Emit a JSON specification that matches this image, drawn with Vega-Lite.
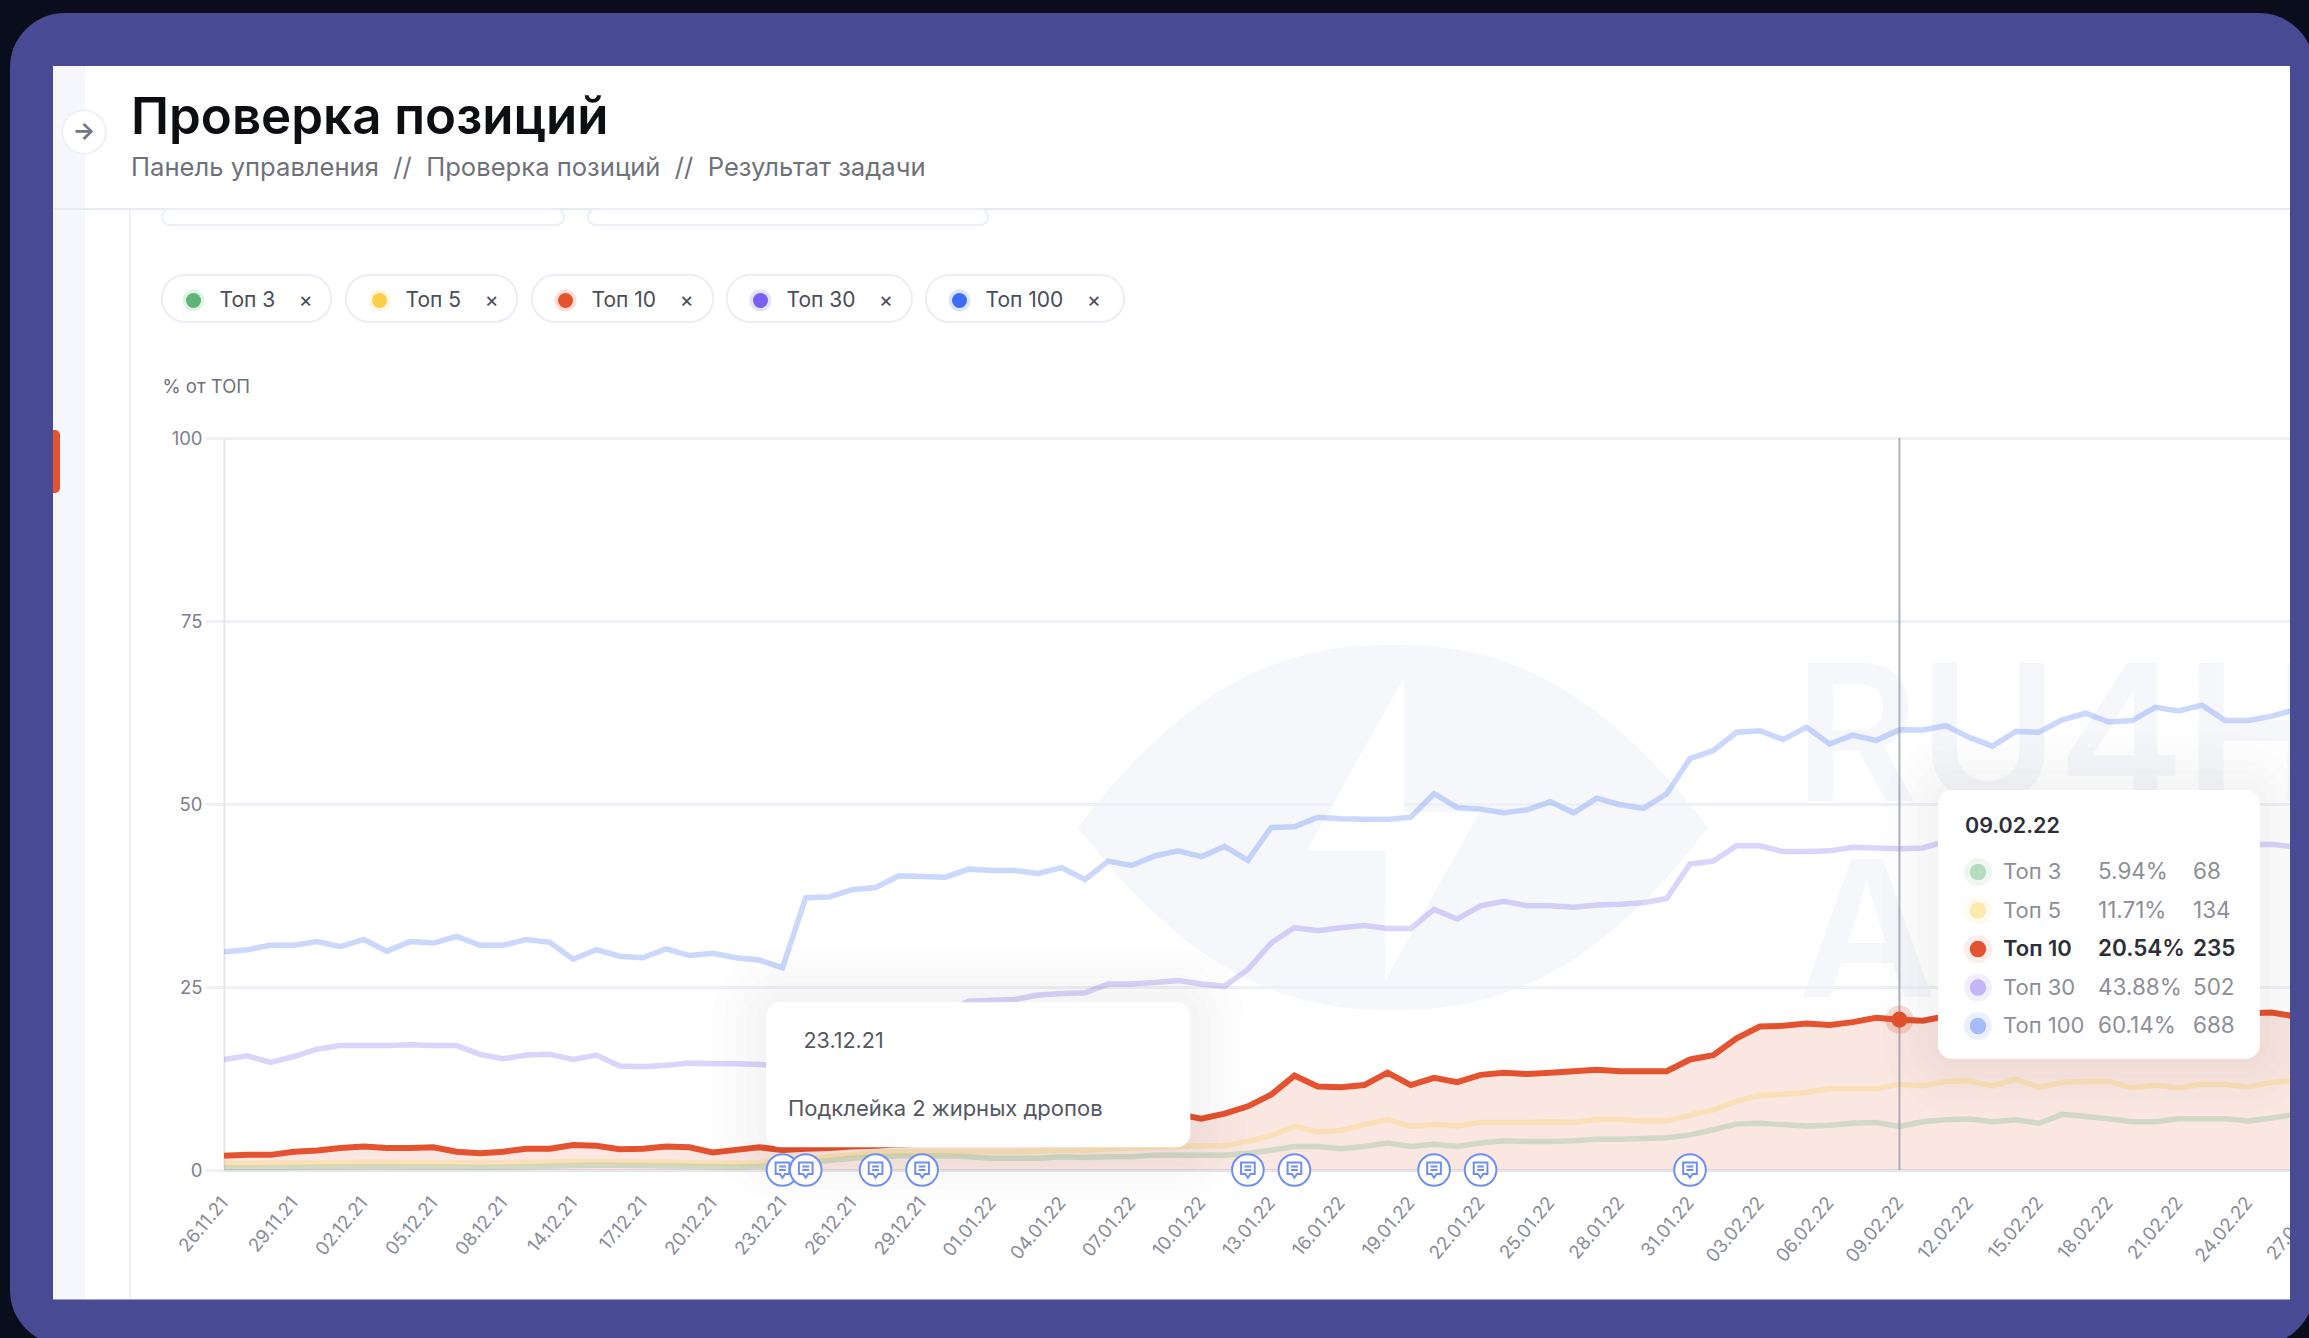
{"$schema":"https://vega.github.io/schema/vega-lite/v6.json","width":2066,"height":732,"autosize":{"type":"none"},"padding":{"left":224,"top":438,"right":19,"bottom":168},"background":"#ffffff",
"title":{"text":"Проверка позиций","subtitle":"Панель управления\u00a0\u00a0//\u00a0\u00a0Проверка позиций\u00a0\u00a0//\u00a0\u00a0Результат задачи","anchor":"start","frame":"group","dx":-93,"offset":-237,"font":"Inter","fontSize":51,"fontWeight":600,"color":"#0d0e12","subtitleFont":"Inter","subtitleFontSize":25.6,"subtitleColor":"#6f7179","subtitlePadding":11},
"config":{"view":{"stroke":null},"font":"Inter"},
"resolve":{"axis":{"x":"independent","y":"independent"}},
"datasets":{"rows":[
{"date":"26.11.21","Топ 3":0.3,"Топ 5":0.9,"Топ 10":1.93,"Топ 30":15.1,"Топ 100":29.8},
{"date":"27.11.21","Топ 3":0.3,"Топ 5":0.9,"Топ 10":2.07,"Топ 30":15.6,"Топ 100":30.1},
{"date":"28.11.21","Топ 3":0.3,"Топ 5":0.95,"Топ 10":2.07,"Топ 30":14.7,"Топ 100":30.7},
{"date":"29.11.21","Топ 3":0.35,"Топ 5":0.95,"Топ 10":2.5,"Топ 30":15.5,"Топ 100":30.7},
{"date":"30.11.21","Топ 3":0.4,"Топ 5":1.0,"Топ 10":2.67,"Топ 30":16.5,"Топ 100":31.2},
{"date":"01.12.21","Топ 3":0.4,"Топ 5":1.0,"Топ 10":3.0,"Топ 30":17.0,"Топ 100":30.5},
{"date":"02.12.21","Топ 3":0.45,"Топ 5":1.05,"Топ 10":3.2,"Топ 30":17.0,"Топ 100":31.5},
{"date":"03.12.21","Топ 3":0.45,"Топ 5":1.05,"Топ 10":3.0,"Топ 30":17.0,"Топ 100":29.9},
{"date":"04.12.21","Топ 3":0.4,"Топ 5":1.0,"Топ 10":3.0,"Топ 30":17.1,"Топ 100":31.2},
{"date":"05.12.21","Топ 3":0.4,"Топ 5":1.0,"Топ 10":3.1,"Топ 30":17.0,"Топ 100":31.0},
{"date":"06.12.21","Топ 3":0.4,"Топ 5":1.0,"Топ 10":2.5,"Топ 30":17.0,"Топ 100":31.9},
{"date":"07.12.21","Топ 3":0.35,"Топ 5":0.95,"Топ 10":2.3,"Топ 30":15.8,"Топ 100":30.7},
{"date":"08.12.21","Топ 3":0.4,"Топ 5":1.0,"Топ 10":2.5,"Топ 30":15.2,"Топ 100":30.7},
{"date":"10.12.21","Топ 3":0.45,"Топ 5":1.05,"Топ 10":2.9,"Топ 30":15.7,"Топ 100":31.5},
{"date":"12.12.21","Топ 3":0.5,"Топ 5":1.1,"Топ 10":2.9,"Топ 30":15.8,"Топ 100":31.1},
{"date":"14.12.21","Топ 3":0.6,"Топ 5":1.2,"Топ 10":3.4,"Топ 30":15.1,"Топ 100":28.8},
{"date":"15.12.21","Топ 3":0.65,"Топ 5":1.2,"Топ 10":3.3,"Топ 30":15.7,"Топ 100":30.1},
{"date":"16.12.21","Топ 3":0.65,"Топ 5":1.2,"Топ 10":2.85,"Топ 30":14.2,"Топ 100":29.2},
{"date":"17.12.21","Топ 3":0.6,"Топ 5":1.1,"Топ 10":2.9,"Топ 30":14.1,"Топ 100":29.0},
{"date":"18.12.21","Топ 3":0.55,"Топ 5":1.1,"Топ 10":3.2,"Топ 30":14.3,"Топ 100":30.2},
{"date":"19.12.21","Топ 3":0.5,"Топ 5":1.0,"Топ 10":3.1,"Топ 30":14.6,"Топ 100":29.3},
{"date":"20.12.21","Топ 3":0.45,"Топ 5":0.95,"Топ 10":2.4,"Топ 30":14.5,"Топ 100":29.6},
{"date":"21.12.21","Топ 3":0.4,"Топ 5":0.95,"Топ 10":2.75,"Топ 30":14.5,"Топ 100":29.0},
{"date":"22.12.21","Топ 3":0.5,"Топ 5":1.0,"Топ 10":3.1,"Топ 30":14.4,"Топ 100":28.7},
{"date":"23.12.21","Топ 3":0.7,"Топ 5":1.2,"Топ 10":2.75,"Топ 30":14.3,"Топ 100":27.6},
{"date":"24.12.21","Топ 3":1.0,"Топ 5":1.5,"Топ 10":2.9,"Топ 30":14.5,"Топ 100":37.2},
{"date":"25.12.21","Топ 3":1.3,"Топ 5":1.8,"Топ 10":3.0,"Топ 30":15,"Топ 100":37.3},
{"date":"26.12.21","Топ 3":1.6,"Топ 5":2.1,"Топ 10":3.2,"Топ 30":16,"Топ 100":38.3},
{"date":"27.12.21","Топ 3":1.8,"Топ 5":2.4,"Топ 10":3.3,"Топ 30":17,"Топ 100":38.6},
{"date":"28.12.21","Топ 3":1.9,"Топ 5":2.5,"Топ 10":3.5,"Топ 30":18.5,"Топ 100":40.2},
{"date":"29.12.21","Топ 3":1.9,"Топ 5":2.5,"Топ 10":3.6,"Топ 30":20,"Топ 100":40.1},
{"date":"30.12.21","Топ 3":1.95,"Топ 5":2.5,"Топ 10":3.8,"Топ 30":21.5,"Топ 100":40.0},
{"date":"31.12.21","Топ 3":1.8,"Топ 5":2.5,"Топ 10":4.0,"Топ 30":23.06,"Топ 100":41.1},
{"date":"01.01.22","Топ 3":1.6,"Топ 5":2.5,"Топ 10":4.3,"Топ 30":23.2,"Топ 100":40.9},
{"date":"02.01.22","Топ 3":1.6,"Топ 5":2.5,"Топ 10":4.6,"Топ 30":23.3,"Топ 100":40.9},
{"date":"03.01.22","Топ 3":1.6,"Топ 5":2.6,"Топ 10":4.9,"Топ 30":23.9,"Топ 100":40.5},
{"date":"04.01.22","Топ 3":1.8,"Топ 5":2.7,"Топ 10":5.2,"Топ 30":24.1,"Топ 100":41.3},
{"date":"05.01.22","Топ 3":1.7,"Топ 5":2.7,"Топ 10":5.5,"Топ 30":24.2,"Топ 100":39.7},
{"date":"06.01.22","Топ 3":1.8,"Топ 5":2.9,"Топ 10":5.9,"Топ 30":25.4,"Топ 100":42.2},
{"date":"07.01.22","Топ 3":1.8,"Топ 5":3.0,"Топ 10":6.3,"Топ 30":25.4,"Топ 100":41.6},
{"date":"08.01.22","Топ 3":2.0,"Топ 5":3.1,"Топ 10":6.8,"Топ 30":25.6,"Топ 100":42.9},
{"date":"09.01.22","Топ 3":2.0,"Топ 5":3.2,"Топ 10":7.6,"Топ 30":25.9,"Топ 100":43.6},
{"date":"10.01.22","Топ 3":2.0,"Топ 5":3.3,"Топ 10":7.0,"Топ 30":25.4,"Топ 100":42.8},
{"date":"11.01.22","Топ 3":2.0,"Топ 5":3.3,"Топ 10":7.7,"Топ 30":25.1,"Топ 100":44.2},
{"date":"12.01.22","Топ 3":2.3,"Топ 5":3.9,"Топ 10":8.7,"Топ 30":27.4,"Топ 100":42.3},
{"date":"13.01.22","Топ 3":2.7,"Топ 5":4.7,"Топ 10":10.3,"Топ 30":31.0,"Топ 100":46.8},
{"date":"14.01.22","Топ 3":3.2,"Топ 5":5.96,"Топ 10":12.9,"Топ 30":33.1,"Топ 100":46.9},
{"date":"15.01.22","Топ 3":3.2,"Топ 5":5.2,"Топ 10":11.4,"Топ 30":32.7,"Топ 100":48.2},
{"date":"16.01.22","Топ 3":2.9,"Топ 5":5.4,"Топ 10":11.3,"Топ 30":33.1,"Топ 100":48.0},
{"date":"17.01.22","Топ 3":3.2,"Топ 5":6.2,"Топ 10":11.6,"Топ 30":33.4,"Топ 100":47.9},
{"date":"18.01.22","Топ 3":3.7,"Топ 5":6.9,"Топ 10":13.3,"Топ 30":33.0,"Топ 100":47.9},
{"date":"19.01.22","Топ 3":3.2,"Топ 5":5.96,"Топ 10":11.6,"Топ 30":33.0,"Топ 100":48.2},
{"date":"20.01.22","Топ 3":3.5,"Топ 5":6.2,"Топ 10":12.6,"Топ 30":35.6,"Топ 100":51.4},
{"date":"21.01.22","Топ 3":3.2,"Топ 5":6.0,"Топ 10":12.0,"Топ 30":34.3,"Топ 100":49.5},
{"date":"22.01.22","Топ 3":3.7,"Топ 5":6.5,"Топ 10":13.0,"Топ 30":36.1,"Топ 100":49.3},
{"date":"23.01.22","Топ 3":4.0,"Топ 5":6.5,"Топ 10":13.3,"Топ 30":36.7,"Топ 100":48.8},
{"date":"24.01.22","Топ 3":3.9,"Топ 5":6.5,"Топ 10":13.1,"Топ 30":36.1,"Топ 100":49.2},
{"date":"25.01.22","Топ 3":3.9,"Топ 5":6.6,"Топ 10":13.3,"Топ 30":36.1,"Топ 100":50.3},
{"date":"26.01.22","Топ 3":4.0,"Топ 5":6.5,"Топ 10":13.5,"Топ 30":35.9,"Топ 100":48.8},
{"date":"27.01.22","Топ 3":4.2,"Топ 5":6.9,"Топ 10":13.7,"Топ 30":36.2,"Топ 100":50.8},
{"date":"28.01.22","Топ 3":4.2,"Топ 5":6.9,"Топ 10":13.5,"Топ 30":36.3,"Топ 100":49.9},
{"date":"29.01.22","Топ 3":4.3,"Топ 5":6.7,"Топ 10":13.5,"Топ 30":36.5,"Топ 100":49.4},
{"date":"30.01.22","Топ 3":4.4,"Топ 5":6.7,"Топ 10":13.5,"Топ 30":37.1,"Топ 100":51.4},
{"date":"31.01.22","Топ 3":4.8,"Топ 5":7.5,"Топ 10":15.1,"Топ 30":41.8,"Топ 100":56.2},
{"date":"01.02.22","Топ 3":5.5,"Топ 5":8.2,"Топ 10":15.7,"Топ 30":42.2,"Топ 100":57.3},
{"date":"02.02.22","Топ 3":6.3,"Топ 5":9.4,"Топ 10":18.0,"Топ 30":44.3,"Топ 100":59.8},
{"date":"03.02.22","Топ 3":6.4,"Топ 5":10.2,"Топ 10":19.6,"Топ 30":44.3,"Топ 100":60.0},
{"date":"04.02.22","Топ 3":6.2,"Топ 5":10.3,"Топ 10":19.7,"Топ 30":43.5,"Топ 100":58.8},
{"date":"05.02.22","Топ 3":6.0,"Топ 5":10.6,"Топ 10":20.0,"Топ 30":43.5,"Топ 100":60.5},
{"date":"06.02.22","Топ 3":6.1,"Топ 5":11.1,"Топ 10":19.8,"Топ 30":43.6,"Топ 100":58.2},
{"date":"07.02.22","Топ 3":6.4,"Топ 5":11.1,"Топ 10":20.2,"Топ 30":44.1,"Топ 100":59.4},
{"date":"08.02.22","Топ 3":6.5,"Топ 5":11.1,"Топ 10":20.8,"Топ 30":44.0,"Топ 100":58.7},
{"date":"09.02.22","Топ 3":5.94,"Топ 5":11.71,"Топ 10":20.54,"Топ 30":43.88,"Топ 100":60.14},
{"date":"10.02.22","Топ 3":6.6,"Топ 5":11.5,"Топ 10":20.4,"Топ 30":44.0,"Топ 100":60.1},
{"date":"11.02.22","Топ 3":6.85,"Топ 5":12.1,"Топ 10":21.0,"Топ 30":44.9,"Топ 100":60.7},
{"date":"12.02.22","Топ 3":6.95,"Топ 5":12.2,"Топ 10":21.2,"Топ 30":45.0,"Топ 100":59.1},
{"date":"13.02.22","Топ 3":6.6,"Топ 5":11.5,"Топ 10":21.0,"Топ 30":44.8,"Топ 100":57.9},
{"date":"14.02.22","Топ 3":6.85,"Топ 5":12.4,"Топ 10":21.2,"Топ 30":44.6,"Топ 100":59.9},
{"date":"15.02.22","Топ 3":6.4,"Топ 5":11.3,"Топ 10":21.4,"Топ 30":44.7,"Топ 100":59.8},
{"date":"16.02.22","Топ 3":7.6,"Топ 5":12.0,"Топ 10":21.5,"Топ 30":44.8,"Топ 100":61.5},
{"date":"17.02.22","Топ 3":7.3,"Топ 5":12.1,"Топ 10":21.3,"Топ 30":45.0,"Топ 100":62.4},
{"date":"18.02.22","Топ 3":7.0,"Топ 5":12.1,"Топ 10":21.2,"Топ 30":44.9,"Топ 100":61.2},
{"date":"19.02.22","Топ 3":6.6,"Топ 5":11.2,"Топ 10":21.5,"Топ 30":44.7,"Топ 100":61.4},
{"date":"20.02.22","Топ 3":6.6,"Топ 5":11.6,"Топ 10":21.6,"Топ 30":44.8,"Топ 100":63.2},
{"date":"21.02.22","Топ 3":7.0,"Топ 5":11.2,"Топ 10":21.3,"Топ 30":44.6,"Топ 100":62.7},
{"date":"22.02.22","Топ 3":7.0,"Топ 5":11.7,"Топ 10":21.5,"Топ 30":44.5,"Топ 100":63.5},
{"date":"23.02.22","Топ 3":7.0,"Топ 5":11.7,"Топ 10":21.3,"Топ 30":44.4,"Топ 100":61.4},
{"date":"24.02.22","Топ 3":6.7,"Топ 5":11.3,"Топ 10":21.4,"Топ 30":44.4,"Топ 100":61.4},
{"date":"25.02.22","Топ 3":7.1,"Топ 5":12.0,"Топ 10":21.5,"Топ 30":44.5,"Топ 100":62.0},
{"date":"26.02.22","Топ 3":7.6,"Топ 5":12.2,"Топ 10":21.0,"Топ 30":44.1,"Топ 100":62.9}
],
"notes":[{"date":"23.12.21"},{"date":"24.12.21"},{"date":"27.12.21"},{"date":"29.12.21"},{"date":"12.01.22"},{"date":"14.01.22"},{"date":"20.01.22"},{"date":"22.01.22"},{"date":"31.01.22"}],
"hover":[{"series":"Топ 3","share":"5.94%","count":"68"},{"series":"Топ 5","share":"11.71%","count":"134"},{"series":"Топ 10","share":"20.54%","count":"235"},{"series":"Топ 30","share":"43.88%","count":"502"},{"series":"Топ 100","share":"60.14%","count":"688"}],
"one":[{"item":"chrome"}]
},
"layer":[
{"data":{"name":"rows"},"transform":[{"fold":["Топ 10"],"as":["series","value"]}],"mark":{"type":"area","color":"#e4522f","opacity":0.14},
 "encoding":{"x":{"field":"date","type":"ordinal","title":null,"scale":{"type":"point","padding":0,"range":[0,2094.3],"domain":["26.11.21","27.11.21","28.11.21","29.11.21","30.11.21","01.12.21","02.12.21","03.12.21","04.12.21","05.12.21","06.12.21","07.12.21","08.12.21","10.12.21","12.12.21","14.12.21","15.12.21","16.12.21","17.12.21","18.12.21","19.12.21","20.12.21","21.12.21","22.12.21","23.12.21","24.12.21","25.12.21","26.12.21","27.12.21","28.12.21","29.12.21","30.12.21","31.12.21","01.01.22","02.01.22","03.01.22","04.01.22","05.01.22","06.01.22","07.01.22","08.01.22","09.01.22","10.01.22","11.01.22","12.01.22","13.01.22","14.01.22","15.01.22","16.01.22","17.01.22","18.01.22","19.01.22","20.01.22","21.01.22","22.01.22","23.01.22","24.01.22","25.01.22","26.01.22","27.01.22","28.01.22","29.01.22","30.01.22","31.01.22","01.02.22","02.02.22","03.02.22","04.02.22","05.02.22","06.02.22","07.02.22","08.02.22","09.02.22","10.02.22","11.02.22","12.02.22","13.02.22","14.02.22","15.02.22","16.02.22","17.02.22","18.02.22","19.02.22","20.02.22","21.02.22","22.02.22","23.02.22","24.02.22","25.02.22","26.02.22","27.02.22"]},
 "axis":{"values":["26.11.21","29.11.21","02.12.21","05.12.21","08.12.21","14.12.21","17.12.21","20.12.21","23.12.21","26.12.21","29.12.21","01.01.22","04.01.22","07.01.22","10.01.22","13.01.22","16.01.22","19.01.22","22.01.22","25.01.22","28.01.22","31.01.22","03.02.22","06.02.22","09.02.22","12.02.22","15.02.22","18.02.22","21.02.22","24.02.22","27.02.22"],"labelAngle":-50,"labelAlign":"right","labelBaseline":"middle","labelFontSize":18.5,"labelFont":"Inter","labelColor":"#8a8d98","labelPadding":29,"labelOverlap":false,"labelBound":false,"labelFlush":false,"ticks":false,"domainColor":"#e6e7ee","domainWidth":3,"grid":false}},
 "y":{"field":"value","type":"quantitative","title":"% от ТОП","scale":{"domain":[0,100],"range":[732,0],"nice":false,"zero":false},
 "axis":{"values":[0,25,50,75,100],"grid":true,"gridColor":"#eef0f5","gridWidth":3,"tickColor":"#eef0f5","tickSize":19,"tickWidth":3,"domainColor":"#e6e7ee","domainWidth":2,"labelFontSize":18.5,"labelFont":"Inter","labelColor":"#7d808c","labelPadding":3,"titleAngle":0,"titleX":-62,"titleY":-52,"titleAlign":"left","titleBaseline":"middle","titleFontSize":18.5,"titleFontWeight":400,"titleFont":"Inter","titleColor":"#6f7179"}}}},
{"data":{"name":"one"},"mark":{"type":"point","shape":"M-1 0 C-0.62 -0.5 -0.3 -0.58 0 -0.58 C0.3 -0.58 0.62 -0.5 1 0 C0.62 0.5 0.3 0.58 0 0.58 C-0.3 0.58 -0.62 0.5 -1 0 Z","size":396900,"filled":true,"fill":"#eef1f8","opacity":0.6,"strokeWidth":0,"xOffset":5.5},
 "encoding":{"x":{"datum":"18.01.22","type":"ordinal","axis":null},"y":{"datum":46.8,"type":"quantitative","axis":null}}},
{"data":{"name":"one"},"mark":{"type":"point","shape":"M0.035 -0.476 L-0.273 0.073 L-0.025 0.073 L-0.025 0.486 L0.276 -0.05 L0.035 -0.05 Z","size":396900,"filled":true,"fill":"#ffffff","opacity":1,"strokeWidth":0,"xOffset":5.5},
 "encoding":{"x":{"datum":"18.01.22","type":"ordinal","axis":null},"y":{"datum":46.8,"type":"quantitative","axis":null}}},
{"data":{"values":[{"word":"RU4H"}]},"mark":{"type":"text","align":"left","baseline":"alphabetic","fontSize":190,"fontWeight":600,"font":"Inter","fill":"#eef1f8","opacity":0.5,"dx":-12},
 "encoding":{"x":{"datum":"05.02.22","type":"ordinal","axis":null},"y":{"datum":50.4,"type":"quantitative","axis":null},"text":{"field":"word"}}},
{"data":{"values":[{"word":"A"}]},"mark":{"type":"text","align":"left","baseline":"alphabetic","fontSize":190,"fontWeight":600,"font":"Inter","fill":"#eef1f8","opacity":0.5,"dx":-8},
 "encoding":{"x":{"datum":"05.02.22","type":"ordinal","axis":null},"y":{"datum":23.6,"type":"quantitative","axis":null},"text":{"field":"word"}}},
{"data":{"name":"rows"},"transform":[{"fold":["Топ 3","Топ 5","Топ 30","Топ 100"],"as":["series","value"]}],"mark":{"type":"line","strokeWidth":5.5,"opacity":0.27,"strokeJoin":"miter"},
 "encoding":{"x":{"field":"date","type":"ordinal","axis":null},"y":{"field":"value","type":"quantitative","axis":null},"detail":{"field":"series"},
 "color":{"field":"series","type":"nominal","scale":{"domain":["Топ 3","Топ 5","Топ 10","Топ 30","Топ 100"],"range":["#5fb576","#f9cf4a","#e4522f","#7b5ff0","#3f6ef5"]},
 "legend":{"orient":"none","legendX":-41.5,"legendY":-148.5,"title":null,"direction":"horizontal","columns":5,"gridAlign":"none","columnPadding":44,"symbolType":"circle","symbolSize":225,"symbolOpacity":1,"labelOffset":15,"labelFontSize":21,"labelFont":"Inter","labelColor":"#4a4c57","labelExpr":"datum.label + '\u00a0\u00a0\u00a0\u00a0×'","encode":{"symbols":{"update":{"fill":{"field":"value","scale":"color"},"strokeOpacity":{"value":0.18},"strokeWidth":{"value":7},"opacity":{"value":1}}}}}}}},
{"data":{"name":"rows"},"transform":[{"fold":["Топ 10"],"as":["series","value"]}],"mark":{"type":"line","strokeWidth":6,"color":"#e4522f","strokeJoin":"miter"},
 "encoding":{"x":{"field":"date","type":"ordinal","axis":null},"y":{"field":"value","type":"quantitative","axis":null}}},
{"data":{"name":"one"},"mark":{"type":"rule","color":"#8f93a3","opacity":0.7,"strokeWidth":2},
 "encoding":{"x":{"datum":"09.02.22","type":"ordinal","axis":null},"y":{"datum":100,"type":"quantitative","axis":null},"y2":{"datum":0}}},
{"data":{"name":"one"},"mark":{"type":"point","filled":true,"size":800,"fill":"#e4522f","opacity":0.2,"strokeWidth":0},
 "encoding":{"x":{"datum":"09.02.22","type":"ordinal","axis":null},"y":{"datum":20.54,"type":"quantitative","axis":null}}},
{"data":{"name":"one"},"mark":{"type":"point","filled":true,"size":260,"fill":"#e4522f","opacity":1,"strokeWidth":0},
 "encoding":{"x":{"datum":"09.02.22","type":"ordinal","axis":null},"y":{"datum":20.54,"type":"quantitative","axis":null}}},

{"data":{"name":"one"},"encoding":{"x":{"datum":"22.12.21","type":"ordinal","axis":null},"x2":{"datum":"10.01.22"},"y":{"datum":22.9,"type":"quantitative","axis":null},"y2":{"datum":3.1}},"layer":[
{"mark":{"type":"rect","fill":"transparent","stroke":"#20243a","strokeOpacity":0.008,"strokeWidth":110,"cornerRadius":20,"xOffset":7,"x2Offset":-11}},
{"mark":{"type":"rect","fill":"transparent","stroke":"#20243a","strokeOpacity":0.008,"strokeWidth":85,"cornerRadius":20,"xOffset":7,"x2Offset":-11}},
{"mark":{"type":"rect","fill":"transparent","stroke":"#20243a","strokeOpacity":0.008,"strokeWidth":60,"cornerRadius":20,"xOffset":7,"x2Offset":-11}},
{"mark":{"type":"rect","fill":"transparent","stroke":"#20243a","strokeOpacity":0.008,"strokeWidth":40,"cornerRadius":20,"xOffset":7,"x2Offset":-11}},
{"mark":{"type":"rect","fill":"transparent","stroke":"#20243a","strokeOpacity":0.008,"strokeWidth":20,"cornerRadius":20,"xOffset":7,"x2Offset":-11}},
{"mark":{"type":"rect","fill":"#ffffff","cornerRadius":14,"xOffset":7,"x2Offset":-11}}]},
{"data":{"values":[{"label":"23.12.21"}]},"mark":{"type":"text","align":"left","baseline":"middle","font":"Inter","fontSize":21.5,"fill":"#55575f","dx":21},"encoding":{"x":{"datum":"23.12.21","type":"ordinal","axis":null},"y":{"datum":17.5,"type":"quantitative","axis":null},"text":{"field":"label"}}},
{"data":{"values":[{"label":"Подклейка 2 жирных дропов"}]},"mark":{"type":"text","align":"left","baseline":"middle","font":"Inter","fontSize":22,"fill":"#55575f","dx":5.5},"encoding":{"x":{"datum":"23.12.21","type":"ordinal","axis":null},"y":{"datum":8.3,"type":"quantitative","axis":null},"text":{"field":"label"}}},

{"data":{"name":"one"},"encoding":{"x":{"datum":"11.02.22","type":"ordinal","axis":null},"x2":{"datum":"25.02.22"},"y":{"datum":51.9,"type":"quantitative","axis":null},"y2":{"datum":15.2}},"layer":[
{"mark":{"type":"rect","fill":"transparent","stroke":"#20243a","strokeOpacity":0.008,"strokeWidth":110,"cornerRadius":20,"xOffset":-8,"x2Offset":-12}},
{"mark":{"type":"rect","fill":"transparent","stroke":"#20243a","strokeOpacity":0.008,"strokeWidth":85,"cornerRadius":20,"xOffset":-8,"x2Offset":-12}},
{"mark":{"type":"rect","fill":"transparent","stroke":"#20243a","strokeOpacity":0.008,"strokeWidth":60,"cornerRadius":20,"xOffset":-8,"x2Offset":-12}},
{"mark":{"type":"rect","fill":"transparent","stroke":"#20243a","strokeOpacity":0.008,"strokeWidth":40,"cornerRadius":20,"xOffset":-8,"x2Offset":-12}},
{"mark":{"type":"rect","fill":"transparent","stroke":"#20243a","strokeOpacity":0.008,"strokeWidth":20,"cornerRadius":20,"xOffset":-8,"x2Offset":-12}},
{"mark":{"type":"rect","fill":"#ffffff","cornerRadius":14,"xOffset":-8,"x2Offset":-12}}]},
{"data":{"values":[{"label":"09.02.22"}]},"mark":{"type":"text","align":"left","baseline":"middle","font":"Inter","fontSize":21.5,"fontWeight":600,"fill":"#2d2f36","dx":19},"encoding":{"x":{"datum":"11.02.22","type":"ordinal","axis":null},"y":{"datum":46.9,"type":"quantitative","axis":null},"text":{"field":"label"}}},

{"data":{"name":"notes"},"mark":{"type":"point","filled":true,"size":1000,"fill":"#ffffff","stroke":"#6f8ff0","strokeWidth":2,"opacity":1},"encoding":{"x":{"field":"date","type":"ordinal","axis":null},"y":{"datum":0,"type":"quantitative","axis":null}}},
{"data":{"name":"notes"},"mark":{"type":"point","filled":false,"shape":"M-0.6 -0.65 H0.6 V0.35 H0.22 L0 0.68 L-0.22 0.35 H-0.6 Z M-0.3 -0.3 H0.3 M-0.3 0 H0.3","size":520,"stroke":"#6f8ff0","strokeWidth":2,"opacity":1},"encoding":{"x":{"field":"date","type":"ordinal","axis":null},"y":{"datum":0,"type":"quantitative","axis":null}}},

{"data":{"name":"one"},"mark":{"type":"rect","fill":"#ffffff"},"encoding":{"x":{"value":-171},"x2":{"value":2066},"y":{"value":-372},"y2":{"value":-230}}},
{"data":{"name":"one"},"mark":{"type":"rect","fill":"#f6f7fc"},"encoding":{"x":{"value":-171},"x2":{"value":-139},"y":{"value":-372},"y2":{"value":862}}},
{"data":{"name":"one"},"mark":{"type":"rect","fill":"#eef0f5"},"encoding":{"x":{"value":-95},"x2":{"value":-93},"y":{"value":-229},"y2":{"value":862}}},
{"data":{"name":"one"},"mark":{"type":"rect","fill":"#e9ebf2"},"encoding":{"x":{"value":-171},"x2":{"value":2066},"y":{"value":-230},"y2":{"value":-228}}},
{"data":{"name":"one"},"mark":{"type":"rect","fill":"#e4522f","cornerRadius":5},"encoding":{"x":{"value":-175},"x2":{"value":-164},"y":{"value":-8},"y2":{"value":55}}},
{"data":{"name":"one"},"mark":{"type":"point","filled":true,"size":1900,"fill":"#ffffff","stroke":"#eef0f5","strokeWidth":2,"opacity":1},"encoding":{"x":{"value":-140},"y":{"value":-306}}},
{"data":{"values":[{"glyph":"→"}]},"mark":{"type":"text","align":"center","baseline":"middle","fontSize":24,"fontWeight":700,"fill":"#74767f"},"encoding":{"x":{"value":-140},"y":{"value":-306},"text":{"field":"glyph"}}},
{"data":{"values":[{"chip":"Топ 3"}]},"mark":{"type":"rect","fill":"transparent","stroke":"#eceef5","strokeWidth":2,"cornerRadius":23},"encoding":{"x":{"value":-62},"x2":{"value":107},"y":{"value":-163},"y2":{"value":-116}}},
{"data":{"values":[{"chip":"Топ 5"}]},"mark":{"type":"rect","fill":"transparent","stroke":"#eceef5","strokeWidth":2,"cornerRadius":23},"encoding":{"x":{"value":122},"x2":{"value":293},"y":{"value":-163},"y2":{"value":-116}}},
{"data":{"values":[{"chip":"Топ 10"}]},"mark":{"type":"rect","fill":"transparent","stroke":"#eceef5","strokeWidth":2,"cornerRadius":23},"encoding":{"x":{"value":308},"x2":{"value":489},"y":{"value":-163},"y2":{"value":-116}}},
{"data":{"values":[{"chip":"Топ 30"}]},"mark":{"type":"rect","fill":"transparent","stroke":"#eceef5","strokeWidth":2,"cornerRadius":23},"encoding":{"x":{"value":503},"x2":{"value":688},"y":{"value":-163},"y2":{"value":-116}}},
{"data":{"values":[{"chip":"Топ 100"}]},"mark":{"type":"rect","fill":"transparent","stroke":"#eceef5","strokeWidth":2,"cornerRadius":23},"encoding":{"x":{"value":702},"x2":{"value":900},"y":{"value":-163},"y2":{"value":-116}}},
{"data":{"values":[{"field":"a"}]},"mark":{"type":"rect","fill":"transparent","stroke":"#eceef5","strokeWidth":2,"cornerRadius":18},"encoding":{"x":{"value":-62},"x2":{"value":340},"y":{"value":-229},"y2":{"value":-213}}},
{"data":{"values":[{"field":"b"}]},"mark":{"type":"rect","fill":"transparent","stroke":"#eceef5","strokeWidth":2,"cornerRadius":18},"encoding":{"x":{"value":364},"x2":{"value":764},"y":{"value":-229},"y2":{"value":-213}}},

{"data":{"name":"hover"},
 "encoding":{"x":{"datum":"11.02.22","type":"ordinal","axis":null},"y":{"datum":40.7,"type":"quantitative","axis":null},"yOffset":{"field":"series","type":"nominal","scale":{"type":"point","padding":0,"range":[0,154],"domain":["Топ 3","Топ 5","Топ 10","Топ 30","Топ 100"]}}},
 "layer":[
 {"mark":{"type":"point","filled":true,"size":784,"opacity":0.1,"strokeWidth":0,"xOffset":32},"encoding":{"color":{"field":"series","type":"nominal","legend":null}}},
 {"transform":[{"filter":"datum.series !== 'Топ 10'"}],"mark":{"type":"point","filled":true,"size":270,"opacity":0.4,"strokeWidth":0,"xOffset":32},"encoding":{"color":{"field":"series","type":"nominal","legend":null}}},
 {"transform":[{"filter":"datum.series === 'Топ 10'"}],"mark":{"type":"point","filled":true,"size":270,"opacity":1,"strokeWidth":0,"xOffset":32},"encoding":{"color":{"field":"series","type":"nominal","legend":null}}},
 {"transform":[{"filter":"datum.series !== 'Топ 10'"}],"mark":{"type":"text","align":"left","baseline":"middle","font":"Inter","fontSize":22,"fill":"#8d8f98","dx":57},"encoding":{"text":{"field":"series"}}},
 {"transform":[{"filter":"datum.series !== 'Топ 10'"}],"mark":{"type":"text","align":"left","baseline":"middle","font":"Inter","fontSize":22.5,"fill":"#8d8f98","dx":152},"encoding":{"text":{"field":"share"}}},
 {"transform":[{"filter":"datum.series !== 'Топ 10'"}],"mark":{"type":"text","align":"left","baseline":"middle","font":"Inter","fontSize":22.5,"fill":"#8d8f98","dx":247},"encoding":{"text":{"field":"count"}}},
 {"transform":[{"filter":"datum.series === 'Топ 10'"}],"mark":{"type":"text","align":"left","baseline":"middle","font":"Inter","fontSize":22,"fontWeight":600,"fill":"#2d2f36","dx":57},"encoding":{"text":{"field":"series"}}},
 {"transform":[{"filter":"datum.series === 'Топ 10'"}],"mark":{"type":"text","align":"left","baseline":"middle","font":"Inter","fontSize":22.5,"fontWeight":600,"fill":"#2d2f36","dx":152},"encoding":{"text":{"field":"share"}}},
 {"transform":[{"filter":"datum.series === 'Топ 10'"}],"mark":{"type":"text","align":"left","baseline":"middle","font":"Inter","fontSize":22.5,"fontWeight":600,"fill":"#2d2f36","dx":247},"encoding":{"text":{"field":"count"}}}
 ]},

{"data":{"name":"one"},"mark":{"type":"rect","fill":"transparent","stroke":"#484a94","strokeWidth":120},"encoding":{"x":{"value":-231},"x2":{"value":2126},"y":{"value":-432},"y2":{"value":921.5}}},
{"data":{"name":"one"},"mark":{"type":"rect","fill":"transparent","stroke":"#0a0d1c","strokeWidth":40,"cornerRadius":75},"encoding":{"x":{"value":-234},"x2":{"value":2110},"y":{"value":-445},"y2":{"value":927}}}
]}
